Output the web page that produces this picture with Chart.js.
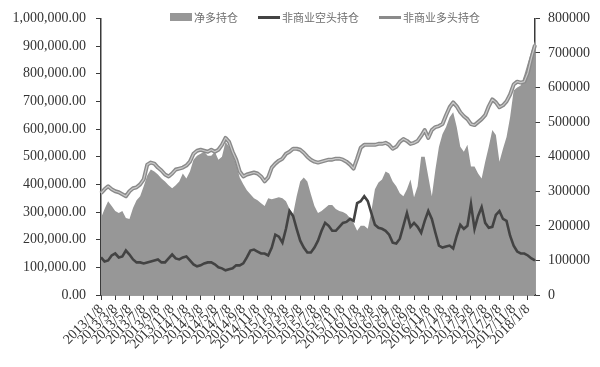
<!DOCTYPE html>
<html>
<head>
<meta charset="utf-8">
<script src="https://cdn.jsdelivr.net/npm/chart.js@4.4.1/dist/chart.umd.min.js"></script>
<style>
  html, body { margin: 0; padding: 0; background: #ffffff; }
  #wrap { position: relative; width: 600px; height: 367px; overflow: hidden; }
  #legend { position: absolute; top: 9px; left: 170px; display: flex; align-items: center;
            font-family: "Noto Sans CJK SC", sans-serif; font-size: 11px; color: #6e6e6e; }
  .item { display: flex; align-items: center; margin-right: 20px; }
  .sw { display: inline-block; width: 22px; margin-right: 2px; }
</style>
</head>
<body>
<div id="wrap">
  <canvas id="c" width="600" height="367"></canvas>
  <div id="legend"></div>
</div>
<script>
// Categories: half-monthly dates (tick labels shown every 2 months)
const categories = [
  "2013/1/8","2013/1/23","2013/2/8","2013/2/23","2013/3/8","2013/3/23","2013/4/8","2013/4/23","2013/5/8","2013/5/23","2013/6/8","2013/6/23",
  "2013/7/8","2013/7/23","2013/8/8","2013/8/23","2013/9/8","2013/9/23","2013/10/8","2013/10/23","2013/11/8","2013/11/23","2013/12/8","2013/12/23",
  "2014/1/8","2014/1/23","2014/2/8","2014/2/23","2014/3/8","2014/3/23","2014/4/8","2014/4/23","2014/5/8","2014/5/23","2014/6/8","2014/6/23",
  "2014/7/8","2014/7/23","2014/8/8","2014/8/23","2014/9/8","2014/9/23","2014/10/8","2014/10/23","2014/11/8","2014/11/23","2014/12/8","2014/12/23",
  "2015/1/8","2015/1/23","2015/2/8","2015/2/23","2015/3/8","2015/3/23","2015/4/8","2015/4/23","2015/5/8","2015/5/23","2015/6/8","2015/6/23",
  "2015/7/8","2015/7/23","2015/8/8","2015/8/23","2015/9/8","2015/9/23","2015/10/8","2015/10/23","2015/11/8","2015/11/23","2015/12/8","2015/12/23",
  "2016/1/8","2016/1/23","2016/2/8","2016/2/23","2016/3/8","2016/3/23","2016/4/8","2016/4/23","2016/5/8","2016/5/23","2016/6/8","2016/6/23",
  "2016/7/8","2016/7/23","2016/8/8","2016/8/23","2016/9/8","2016/9/23","2016/10/8","2016/10/23","2016/11/8","2016/11/23","2016/12/8","2016/12/23",
  "2017/1/8","2017/1/23","2017/2/8","2017/2/23","2017/3/8","2017/3/23","2017/4/8","2017/4/23","2017/5/8","2017/5/23","2017/6/8","2017/6/23",
  "2017/7/8","2017/7/23","2017/8/8","2017/8/23","2017/9/8","2017/9/23","2017/10/8","2017/10/23","2017/11/8","2017/11/23","2017/12/8","2017/12/23",
  "2018/1/8","2018/1/23","2018/2/8"
];

// 净多持仓 (left axis)
const netLong = [
  278600,310700,339300,321400,303600,296400,303600,278600,275000,314300,342900,357100,
  392900,432100,453600,446400,435700,421400,410700,396400,385700,396400,410700,439300,
  421400,446400,489300,503600,510700,517900,503600,503600,517900,489300,500000,553600,
  535700,507100,471400,425000,400000,378600,364300,350000,342900,332100,321400,350000,
  346400,350000,353600,350000,339300,310700,292900,357100,410700,425000,410700,364300,
  321400,296400,303600,314300,325000,325000,310700,303600,300000,292900,278600,260700,
  232100,250000,250000,239300,303600,382100,407100,417900,446400,439300,410700,392900,
  367900,357100,382100,417900,353600,392900,500000,500000,428600,357100,453600,535700,
  582100,607100,642900,660700,607100,535700,517900,542900,464300,464300,439300,421400,
  482100,535700,596400,578600,482100,528600,571400,642900,739300,750000,757100,796400,
  839300,882100,917900
];

// 非商业空头持仓 (right axis)
const shortPos = [
  108600,97100,100000,114300,120000,108600,111400,128600,117100,102900,94300,94300,
  91400,94300,97100,100000,102900,94300,94300,105700,117100,105700,102900,108600,
  111400,100000,88600,82900,85700,91400,94300,94300,88600,80000,77100,71400,
  74300,77100,85700,85700,91400,108600,128600,131400,125700,120000,120000,114300,
  137100,174300,168600,151400,191400,242900,228600,191400,157100,137100,122900,122900,
  137100,157100,185700,208600,200000,185700,185700,197100,208600,211400,220000,214300,
  265700,271400,285700,271400,237100,202900,194300,191400,185700,174300,151400,148600,
  162900,200000,237100,197100,208600,197100,180000,214300,242900,220000,180000,142900,
  137100,140000,142900,134300,171400,202900,191400,200000,262900,191400,228600,254300,
  208600,194300,197100,231400,242900,220000,214300,171400,142900,125700,120000,120000,
  114300,105700,100000
];

// 非商业多头持仓 (right axis)
const longPos = [
  294300,305700,314300,305700,300000,297100,291400,285700,300000,308600,311400,320000,
  334300,377100,382900,380000,368600,360000,348600,342900,351400,362900,365700,368600,
  374300,385700,408600,417100,420000,417100,414300,420000,414300,420000,434300,454300,
  442900,414300,391400,357100,342900,348600,351400,354300,351400,342900,328600,340000,
  368600,380000,388600,394300,408600,414300,422900,422900,420000,411400,400000,391400,
  385700,382900,385700,388600,391400,391400,394300,394300,391400,385700,377100,365700,
  394300,425700,434300,434300,434300,434300,437100,437100,440000,434300,422900,428600,
  442900,451400,445700,437100,440000,445700,460000,477100,454300,477100,485700,488600,
  494300,520000,542900,557100,545700,528600,517100,508600,494300,491400,500000,508600,
  520000,545700,565700,557100,542900,548600,560000,580000,608600,617100,614300,617100,
  642900,685700,722900
];

const seriesNames = ["净多持仓", "非商业空头持仓", "非商业多头持仓"];
const leftTicksMax = 1000000, rightTicksMax = 800000;

const axisColor = "#3a3a3a";
const tickFont = { family: "Liberation Serif", size: 14 };

// Light inner stroke on the long-position line (double-line look of the original)
const innerStroke = {
  id: "innerStroke",
  afterDatasetsDraw(chart) {
    const meta = chart.getDatasetMeta(2);
    const pts = meta.data;
    if (!pts.length) return;
    const ctx = chart.ctx;
    ctx.save();
    ctx.beginPath();
    pts.forEach((p, i) => { if (i === 0) ctx.moveTo(p.x, p.y); else ctx.lineTo(p.x, p.y); });
    ctx.strokeStyle = "#c9c9c9";
    ctx.lineWidth = 1.2;
    ctx.lineJoin = "round";
    ctx.stroke();
    ctx.restore();
  }
};

const chart = new Chart(document.getElementById("c"), {
  type: "line",
  data: {
    labels: categories,
    datasets: [
      { label: seriesNames[0], data: netLong, yAxisID: "y", fill: "origin",
        backgroundColor: "#979797", borderColor: "#979797", borderWidth: 0,
        pointRadius: 0, tension: 0, order: 3 },
      { label: seriesNames[1], data: shortPos, yAxisID: "y1", fill: false,
        borderColor: "#434343", borderWidth: 2.6, pointRadius: 0, tension: 0, order: 1 },
      { label: seriesNames[2], data: longPos, yAxisID: "y1", fill: false,
        borderColor: "#8a8a8a", borderWidth: 4, pointRadius: 0, tension: 0, order: 2,
        borderJoinStyle: "round" }
    ]
  },
  options: {
    responsive: false,
    animation: false,
    devicePixelRatio: 1,
    layout: { padding: { top: 15, left: 0, right: 0, bottom: 0 } },
    plugins: { legend: { display: false }, tooltip: { enabled: false } },
    scales: {
      x: {
        type: "category",
        offset: false,
        grid: { display: true, drawOnChartArea: false, tickLength: 5,
                color: (ctx) => (ctx.index % 4 === 0 ? axisColor : "rgba(0,0,0,0)") },
        border: { display: true, color: axisColor, width: 1.5 },
        ticks: {
          autoSkip: false, maxRotation: 45, minRotation: 45, padding: 1,
          color: "#333", font: { family: "Liberation Serif", size: 14 },
          callback: function (v, i) { return i % 4 === 0 ? categories[i] : ""; }
        },
        afterFit: (s) => { s.height = 72; }
      },
      y: {
        position: "left", min: 0, max: leftTicksMax,
        grid: { display: true, drawOnChartArea: false, tickLength: 5, color: axisColor },
        border: { display: true, color: axisColor, width: 1.5 },
        ticks: { stepSize: 100000, padding: 10, color: "#333", font: tickFont,
          callback: (v) => Number(v).toLocaleString("en-US", { minimumFractionDigits: 2, maximumFractionDigits: 2 }) },
        afterFit: (s) => { s.width = 101; }
      },
      y1: {
        position: "right", min: 0, max: rightTicksMax,
        grid: { display: true, drawOnChartArea: false, tickLength: 5, color: axisColor },
        border: { display: true, color: axisColor, width: 1.5 },
        ticks: { stepSize: 100000, padding: 8, color: "#333", font: tickFont,
          callback: (v) => String(v) },
        afterFit: (s) => { s.width = 65; }
      }
    }
  },
  plugins: [innerStroke]
});

// HTML legend built from the datasets
const lg = document.getElementById("legend");
chart.data.datasets.forEach((ds, i) => {
  const it = document.createElement("div");
  it.className = "item";
  const sw = document.createElement("span");
  sw.className = "sw";
  if (i === 0) { sw.style.height = "8px"; sw.style.background = ds.backgroundColor; }
  else { sw.style.height = "3px"; sw.style.background = ds.borderColor; }
  const tx = document.createElement("span");
  tx.textContent = ds.label;
  it.appendChild(sw); it.appendChild(tx);
  lg.appendChild(it);
});
</script>
</body>
</html>
